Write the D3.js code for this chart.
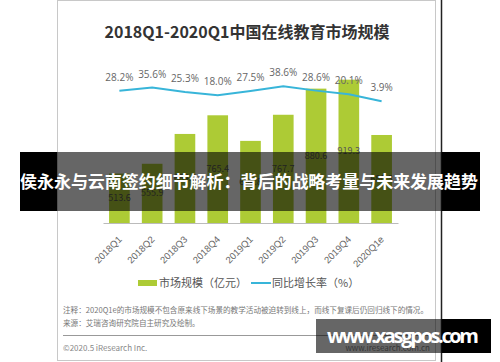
<!DOCTYPE html>
<html>
<head>
<meta charset="utf-8">
<script src="https://cdn.jsdelivr.net/npm/d3@7"></script>
<style>
  body { margin: 0; background: #fff; }
  svg { display: block; font-family: "Noto Sans CJK SC", "Noto Sans", sans-serif; }
</style>
</head>
<body>
<div id="chart"></div>
<script>
// data
var quarters = ['2018Q1', '2018Q2', '2018Q3', '2018Q4', '2019Q1', '2019Q2', '2019Q3', '2019Q4', '2020Q1e'];
var marketSize = [513.6, 555.9, 684.8, 765.4, 654.8, 767.7, 880.6, 919.3, 680.3];
var growthRate = [28.2, 35.6, 25.3, 18.0, 27.5, 38.6, 28.6, 20.1, 3.9];
var legendLabels = ['市场规模（亿元）', '同比增长率（%）'];

var width = 500, height = 362,
    barFill = '#adcb35',
    lineStroke = '#38b5d9',
    textGray = '#666';

var svg = d3.select('#chart').append('svg')
    .attr('width', width)
    .attr('height', height);

// card frame
svg.append('rect')
    .attr('x', 57.5).attr('y', 0.5)
    .attr('width', 378).attr('height', 360)
    .attr('fill', '#fff')
    .attr('stroke', '#c8c8c8');
svg.append('line')
    .attr('x1', 441.5).attr('x2', 441.5)
    .attr('y1', 0).attr('y2', height)
    .attr('stroke', '#222').attr('stroke-width', 1.5);

// title
svg.append('text')
    .attr('x', 247).attr('y', 38)
    .attr('text-anchor', 'middle')
    .attr('font-size', 16).attr('font-weight', 'bold')
    .attr('fill', '#333')
    .text('2018Q1-2020Q1中国在线教育市场规模');

var x = d3.scaleBand()
    .domain(quarters)
    .range([103, 398])
    .paddingInner(0.37)
    .paddingOuter(0.185);

var y = d3.scaleLinear().domain([300, 1000]).range([223, 61]);
var yRate = d3.scaleLinear().domain([0, 40]).range([103, 85.7]);

// bars
svg.selectAll('.bar')
    .data(marketSize)
    .enter().append('rect')
    .attr('class', 'bar')
    .attr('x', function (d, i) { return x(quarters[i]); })
    .attr('y', function (d) { return y(d); })
    .attr('width', x.bandwidth())
    .attr('height', function (d) { return y.range()[0] - y(d); })
    .attr('fill', barFill);

// value labels sit in the middle of each bar
svg.selectAll('.bar-label')
    .data(marketSize)
    .enter().append('text')
    .attr('class', 'bar-label')
    .attr('x', function (d, i) { return x(quarters[i]) + x.bandwidth() / 2; })
    .attr('y', function (d) { return (y(d) + y.range()[0]) / 2 + 3; })
    .attr('text-anchor', 'middle')
    .attr('font-size', 9)
    .attr('fill', '#555')
    .text(function (d) { return d.toFixed(1); });

// x axis
var xAxis = svg.append('g')
    .attr('transform', 'translate(0,223)')
    .call(d3.axisBottom(x).tickSize(0).tickSizeOuter(0));
xAxis.select('.domain').attr('stroke', '#bbb');
xAxis.selectAll('text')
    .attr('font-size', 9.5)
    .attr('fill', textGray)
    .attr('text-anchor', 'end')
    .attr('dy', 0)
    .attr('y', 0)
    .attr('transform', 'translate(3,17) rotate(-45)');

// growth line
var line = d3.line()
    .x(function (d, i) { return x(quarters[i]) + x.bandwidth() / 2; })
    .y(function (d) { return yRate(d); });

svg.append('path')
    .datum(growthRate)
    .attr('d', line)
    .attr('fill', 'none')
    .attr('stroke', lineStroke)
    .attr('stroke-width', 2);

svg.selectAll('.rate-label')
    .data(growthRate)
    .enter().append('text')
    .attr('class', 'rate-label')
    .attr('x', function (d, i) { return x(quarters[i]) + x.bandwidth() / 2; })
    .attr('y', function (d) { return yRate(d) - 10; })
    .attr('text-anchor', 'middle')
    .attr('font-family', 'Open Sans, sans-serif')
    .attr('font-size', 10)
    .attr('fill', textGray)
    .text(function (d) { return d.toFixed(1) + '%'; });

// legend
var legend = svg.append('g').attr('font-size', 11).attr('fill', '#555');
legend.append('rect')
    .attr('x', 138).attr('y', 280)
    .attr('width', 19).attr('height', 6)
    .attr('fill', barFill);
legend.append('text').attr('x', 159).attr('y', 287).text(legendLabels[0]);
legend.append('line')
    .attr('x1', 251).attr('x2', 271)
    .attr('y1', 283).attr('y2', 283)
    .attr('stroke', lineStroke).attr('stroke-width', 2);
legend.append('text').attr('x', 272).attr('y', 287).text(legendLabels[1]);

// notes + footer
var notes = svg.append('g').attr('font-size', 7.6).attr('fill', '#777');
notes.append('text').attr('x', 63).attr('y', 313)
    .text('注释：2020Q1e的市场规模不包含原来线下场景的教学活动被迫转到线上，而线下复课后仍回归线下的情况。');
notes.append('text').attr('x', 63).attr('y', 326)
    .text('来源：艾瑞咨询研究院自主研究及绘制。');
svg.append('line')
    .attr('x1', 63).attr('x2', 430)
    .attr('y1', 335.5).attr('y2', 335.5)
    .attr('stroke', '#999');
svg.append('text')
    .attr('x', 63).attr('y', 351)
    .attr('font-size', 8).attr('fill', '#888')
    .text('©2020.5 iResearch Inc.');
svg.append('text')
    .attr('x', 430).attr('y', 351)
    .attr('text-anchor', 'end')
    .attr('font-size', 8).attr('fill', '#888')
    .text('www.iresearch.com.cn');

// headline band across the middle (translucent over the card, black outside)
svg.append('rect').attr('x', 20).attr('y', 152).attr('width', 37).attr('height', 59).attr('fill', '#000');
svg.append('rect').attr('x', 57).attr('y', 152).attr('width', 385).attr('height', 59).attr('fill', 'rgba(0,0,0,0.6)');
svg.append('rect').attr('x', 442).attr('y', 152).attr('width', 38).attr('height', 59).attr('fill', '#000');
svg.append('text')
    .attr('x', 249).attr('y', 188)
    .attr('text-anchor', 'middle')
    .attr('font-size', 17).attr('font-weight', 'bold')
    .attr('fill', '#fff')
    .attr('textLength', 458)
    .text('侯永永与云南签约细节解析：背后的战略考量与未来发展趋势');

// site watermark
svg.append('rect').attr('x', 316).attr('y', 319).attr('width', 126).attr('height', 34).attr('fill', 'rgba(0,0,0,0.6)');
svg.append('rect').attr('x', 442).attr('y', 319).attr('width', 49).attr('height', 34).attr('fill', '#000');
svg.append('text')
    .attr('x', 327).attr('y', 343)
    .attr('font-family', 'Open Sans, sans-serif')
    .attr('font-size', 20).attr('font-weight', 'bold')
    .attr('fill', '#fff')
    .attr('textLength', 152)
    .text('www.xasgpos.com');
</script>
</body>
</html>
